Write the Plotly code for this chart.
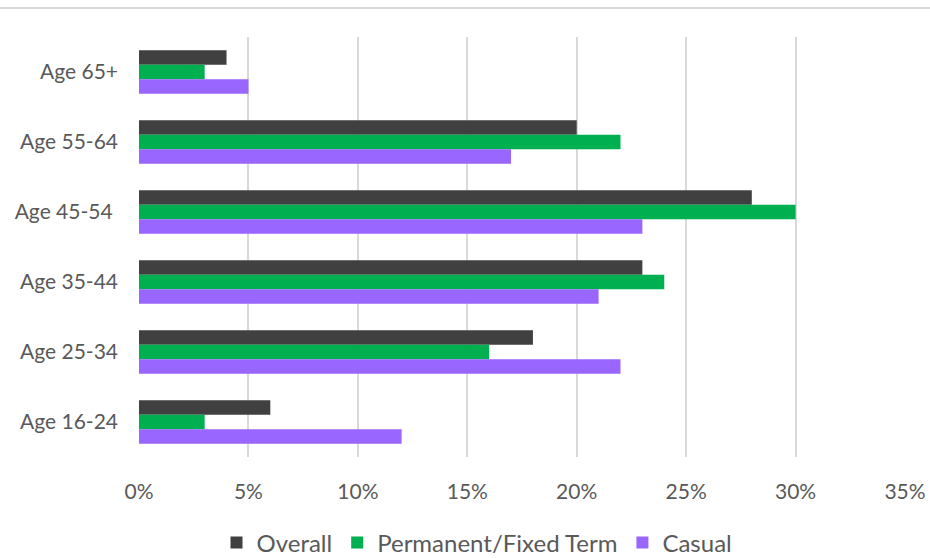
import plotly.graph_objects as go

categories = ["Age 65+", "Age 55-64", "Age 45-54 ", "Age 35-44", "Age 25-34", "Age 16-24"]
overall = [0.04, 0.20, 0.28, 0.23, 0.18, 0.06]
permanent = [0.03, 0.22, 0.30, 0.24, 0.16, 0.03]
casual = [0.05, 0.17, 0.23, 0.21, 0.22, 0.12]
series_names = ["Overall", "Permanent/Fixed Term", "Casual"]
colors = ["#404040", "#00B050", "#9966FF"]
tick_vals = [0, 0.05, 0.10, 0.15, 0.20, 0.25, 0.30, 0.35]

fig = go.Figure()
for name, vals, col in zip(series_names, [overall, permanent, casual], colors):
    fig.add_trace(go.Bar(y=categories, x=vals, name=name, orientation="h",
                         marker=dict(color=col, line=dict(width=0))))

W, H = 930, 558
L, R, T, B = 139, 25, 37, 101
pw = W - L - R
ph = H - T - B

fig.update_layout(
    width=W, height=H,
    margin=dict(l=L, r=R, t=T, b=B, autoexpand=False),
    barmode="group", bargap=0.38, bargroupgap=0,
    plot_bgcolor="white", paper_bgcolor="white",
    font=dict(family="Lato, Open Sans, sans-serif", size=21, color="#595959"),
    xaxis=dict(range=[0, 0.35], tickvals=tick_vals, tickformat=".0%",
               showgrid=True, gridcolor="#d9d9d9", gridwidth=1.5,
               zeroline=False, showline=False, ticks="", ticklen=0,
               automargin=False, ticklabelstandoff=20,
               tickfont=dict(size=21, color="#595959")),
    yaxis=dict(autorange="reversed", showgrid=False, zeroline=False,
               showline=False, ticks="", automargin=False,
               ticklabelstandoff=20,
               tickfont=dict(size=21, color="#595959")),
    legend=dict(orientation="h", x=(477 - L) / pw, xanchor="center",
                y=(ph - (543 - T)) / ph, yanchor="middle",
                font=dict(size=24, color="#595959"),
                traceorder="normal"),
    showlegend=True,
)
fig.add_shape(type="line", xref="paper", yref="paper",
              x0=-L / pw, x1=(W - L) / pw,
              y0=(ph + T - 8) / ph, y1=(ph + T - 8) / ph,
              line=dict(color="#d9d9d9", width=2))
fig.write_html("out.html", config={"displayModeBar": False},
               post_script="document.body.style.margin='0';document.body.style.overflow='hidden';")
